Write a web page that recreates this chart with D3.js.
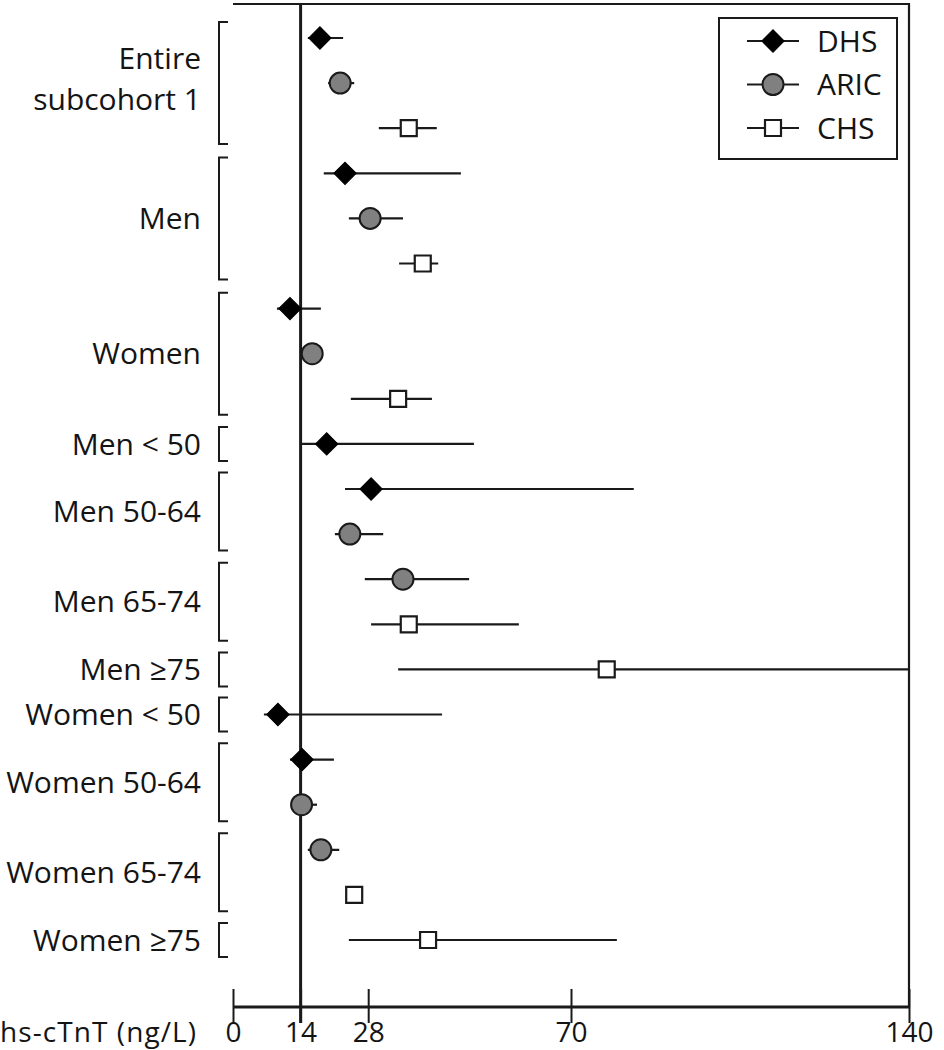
<!DOCTYPE html>
<html>
<head>
<meta charset="utf-8">
<script src="https://cdn.jsdelivr.net/npm/d3@7"></script>
<style>
  html, body { margin: 0; padding: 0; background: #fff; }
  svg { display: block; }
  text { font-family: "Open Sans", "Noto Sans", sans-serif; fill: #141414; }
</style>
</head>
<body>
<svg id="chart" width="944" height="1050"></svg>
<script>
// ---------- data ----------
const groups = ["Entire\nsubcohort 1", "Men", "Women", "Men < 50", "Men 50-64", "Men 65-74",
                "Men \u226575", "Women < 50", "Women 50-64", "Women 65-74", "Women \u226575"];
const cohorts = ["DHS", "ARIC", "CHS"];

const dhsMid  = [18.0, 23.2, 11.8, 19.4, 28.6, null, null,  9.3, 14.3, null, null];
const dhsLow  = [15.5, 18.8,  9.1, 14.3, 23.2, null, null,  6.4, 11.8, null, null];
const dhsHigh = [22.8, 47.2, 18.2, 49.9, 83.0, null, null, 43.3, 20.9, null, null];

const aricMid  = [22.2, 28.4, 16.4, null, 24.2, 35.2, null, null, 14.2, 18.2, null];
const aricLow  = [19.7, 24.0, 15.5, null, 21.1, 27.3, null, null, 12.4, 15.5, null];
const aricHigh = [25.1, 35.2, 17.5, null, 31.1, 48.9, null, null, 17.4, 22.0, null];

const chsMid  = [36.4, 39.3, 34.2, null, null, 36.4,  77.4, null, null, 25.1, 40.4];
const chsLow  = [30.2, 34.4, 24.4, null, null, 28.6,  34.2, null, null, 24.6, 24.0];
const chsHigh = [42.2, 42.5, 41.2, null, null, 59.2, 140.0, null, null, 25.6, 79.5];

const xTicks = [0, 14, 28, 70, 140];
const refValue = 14;
const axisTitle = "hs-cTnT (ng/L)";

// ---------- build rows ----------
const series = {
  DHS:  { mid: dhsMid,  low: dhsLow,  high: dhsHigh },
  ARIC: { mid: aricMid, low: aricLow, high: aricHigh },
  CHS:  { mid: chsMid,  low: chsLow,  high: chsHigh }
};
const rows = [];
const groupRows = groups.map(() => []);
groups.forEach((g, gi) => {
  cohorts.forEach(c => {
    const s = series[c];
    if (s.mid[gi] != null) {
      const r = { key: gi + "-" + c, group: gi, cohort: c, mid: s.mid[gi], low: s.low[gi], high: s.high[gi] };
      rows.push(r);
      groupRows[gi].push(r);
    }
  });
});

// ---------- layout ----------
const svg = d3.select("#chart");
const x = d3.scaleLinear().domain([0, 140]).range([233, 909]);
const y = d3.scalePoint().domain(rows.map(r => r.key)).range([38, 940]);
const axisY = 1007, frameTop = 4;
const ink = "#1a1a1a";

// frame (top and right)
svg.append("path")
  .attr("d", `M${x(0)},${frameTop}H${x(140)}V${axisY}`)
  .attr("fill", "none").attr("stroke", ink).attr("stroke-width", 2.2);

// reference line at 14
svg.append("line")
  .attr("x1", x(refValue)).attr("x2", x(refValue))
  .attr("y1", frameTop).attr("y2", axisY + 16)
  .attr("stroke", ink).attr("stroke-width", 3);

// x axis
const afs = 28;
const axisG = svg.append("g").attr("transform", `translate(0,${axisY})`)
  .call(d3.axisBottom(x).tickValues(xTicks).tickFormat(d3.format("d")).tickSize(16).tickPadding(0));
axisG.select(".domain").attr("stroke", ink).attr("stroke-width", 3).attr("d", `M${x(0)},0H${x(140)}`);
axisG.selectAll(".tick line").attr("stroke", ink).attr("stroke-width", 2).attr("y1", -18);
axisG.selectAll(".tick text")
  .attr("dy", null).attr("y", 35)
  .style("font-family", '"Open Sans", sans-serif').style("font-size", afs + "px").attr("fill", "#141414");

svg.append("text").attr("x", 0).attr("y", axisY + 35)
  .style("font-size", afs + "px").attr("textLength", 196).text(axisTitle);

// group labels and brackets
const fs = 30;
groups.forEach((g, gi) => {
  const rs = groupRows[gi];
  const ys = rs.map(r => y(r.key));
  const gc = (d3.min(ys) + d3.max(ys)) / 2;
  const half = (rs.length - 1) * 22 + 17;
  svg.append("path")
    .attr("d", `M228,${gc - half}H219V${gc + half}H228`)
    .attr("fill", "none").attr("stroke", ink).attr("stroke-width", 2);
  const lines = g.split("\n");
  const t = svg.append("text").attr("text-anchor", "end").style("font-size", fs + "px");
  lines.forEach((ln, i) => {
    const cy = gc + (i - (lines.length - 1) / 2) * 41 - (lines.length > 1 ? 4 : 0);
    t.append("tspan").attr("x", 201).attr("y", cy + 0.357 * fs).text(ln);
  });
});

// markers
function drawMarker(sel, cohort) {
  if (cohort === "DHS") {
    sel.append("path").attr("d", d3.symbol(d3.symbolSquare, 250)())
      .attr("transform", "rotate(45)").attr("fill", "#000").attr("stroke", "#000").attr("stroke-width", 1);
  } else if (cohort === "ARIC") {
    sel.append("circle").attr("r", 10.5).attr("fill", "#808080").attr("stroke", ink).attr("stroke-width", 2);
  } else {
    sel.append("path").attr("d", d3.symbol(d3.symbolSquare, 256)())
      .attr("fill", "#fff").attr("stroke", ink).attr("stroke-width", 2.2);
  }
}

const rowG = svg.append("g").selectAll("g").data(rows).join("g");
rowG.append("line")
  .attr("x1", d => x(d.low)).attr("x2", d => x(d.high))
  .attr("y1", d => y(d.key)).attr("y2", d => y(d.key))
  .attr("stroke", ink).attr("stroke-width", 2.2);
rowG.each(function(d) {
  const m = d3.select(this).append("g").attr("transform", `translate(${x(d.mid)},${y(d.key)})`);
  drawMarker(m, d.cohort);
});

// legend
const leg = svg.append("g");
leg.append("rect").attr("x", 719).attr("y", 18).attr("width", 178).attr("height", 141)
  .attr("fill", "#fff").attr("stroke", ink).attr("stroke-width", 2);
cohorts.forEach((c, i) => {
  const ly = 41 + i * 43.5;
  leg.append("line").attr("x1", 747).attr("x2", 799).attr("y1", ly).attr("y2", ly)
    .attr("stroke", ink).attr("stroke-width", 2.2);
  drawMarker(leg.append("g").attr("transform", `translate(773,${ly})`), c);
  leg.append("text").attr("x", 817).attr("y", ly + 0.357 * fs).style("font-size", fs + "px").text(c);
});
</script>
</body>
</html>
